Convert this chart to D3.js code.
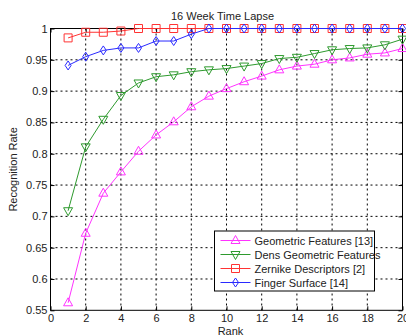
<!DOCTYPE html>
<html>
<head>
<meta charset="utf-8">
<script src="https://cdnjs.cloudflare.com/ajax/libs/d3/7.8.5/d3.min.js"></script>
<style>
  body { margin: 0; background: #fff; }
  svg { display: block; font-family: "Liberation Sans", Arial, sans-serif; }
  .tick text { font-size: 11px; fill: #222; }
</style>
</head>
<body>
<script>
// rank on the x axis
var ranks = [1, 2, 3, 4, 5, 6, 7, 8, 9, 10, 11, 12, 13, 14, 15, 16, 17, 18, 19, 20];

// recognition rate per method
var geometric = [0.562, 0.673, 0.737, 0.771, 0.804, 0.830, 0.851, 0.875, 0.892, 0.904,
                 0.915, 0.924, 0.934, 0.940, 0.943, 0.950, 0.953, 0.959, 0.961, 0.968];
var densGeometric = [0.709, 0.811, 0.855, 0.893, 0.913, 0.923, 0.926, 0.931, 0.934, 0.936,
                     0.940, 0.944, 0.952, 0.954, 0.960, 0.966, 0.968, 0.969, 0.974, 0.983];
var zernike = [0.985, 0.994, 0.994, 0.996, 1, 1, 1, 1, 1, 1,
               1, 1, 1, 1, 1, 1, 1, 1, 1, 1];
var fingerSurface = [0.941, 0.955, 0.965, 0.969, 0.969, 0.980, 0.980, 0.991, 1, 1,
                     1, 1, 1, 1, 1, 1, 1, 1, 1, 1];

var seriesNames = ["Geometric Features [13]", "Dens Geometric Features", "Zernike Descriptors [2]", "Finger Surface [14]"];

var xTicks = [0, 2, 4, 6, 8, 10, 12, 14, 16, 18, 20];
var yTicks = [0.55, 0.6, 0.65, 0.7, 0.75, 0.8, 0.85, 0.9, 0.95, 1];
var yTickLabels = ["0.55", "0.6", "0.65", "0.7", "0.75", "0.8", "0.85", "0.9", "0.95", "1"];

var series = [
    { name: seriesNames[0], values: geometric, color: "#ff33ff", marker: "triUp" },
    { name: seriesNames[1], values: densGeometric, color: "#2e9a2e", marker: "triDown" },
    { name: seriesNames[2], values: zernike, color: "#ff3333", marker: "square" },
    { name: seriesNames[3], values: fingerSurface, color: "#2a2aff", marker: "diamond" }
];

var W = 406, H = 335;
var margin = { top: 28.5, right: 3.5, bottom: 24.7, left: 50.5 };
var width = W - margin.left - margin.right,
    height = H - margin.top - margin.bottom;

var svg = d3.select("body").append("svg")
    .attr("width", W)
    .attr("height", H);

var g = svg.append("g")
    .attr("transform", "translate(" + margin.left + "," + margin.top + ")");

var xScale = d3.scaleLinear().domain([0, 20]).range([0, width]);
var yScale = d3.scaleLinear().domain([0.55, 1]).range([height, 0]);

// dotted grid
g.append("g").selectAll("line")
    .data(xTicks.slice(1, -1))
    .enter().append("line")
    .attr("x1", function (d) { return xScale(d); })
    .attr("x2", function (d) { return xScale(d); })
    .attr("y1", 0).attr("y2", height)
    .attr("stroke", "#000").attr("stroke-width", 1)
    .attr("stroke-dasharray", "2,3");

g.append("g").selectAll("line")
    .data(yTicks.slice(1, -1))
    .enter().append("line")
    .attr("y1", function (d) { return yScale(d); })
    .attr("y2", function (d) { return yScale(d); })
    .attr("x1", 0).attr("x2", width)
    .attr("stroke", "#000").attr("stroke-width", 1)
    .attr("stroke-dasharray", "2,3");

// axes (ticks pointing in)
var xAxis = d3.axisBottom(xScale).tickValues(xTicks).tickSizeInner(-4).tickSizeOuter(0).tickPadding(4);
var xAxisGroup = g.append("g")
    .attr("transform", "translate(0," + height + ")")
    .call(xAxis);

var yAxis = d3.axisLeft(yScale).tickValues(yTicks).tickSizeInner(-4).tickSizeOuter(0).tickPadding(3)
    .tickFormat(function (d, i) { return yTickLabels[i]; });
var yAxisGroup = g.append("g").call(yAxis);

g.append("g").call(d3.axisTop(xScale).tickValues(xTicks).tickSizeInner(-4).tickSizeOuter(0).tickFormat(""));
g.append("g").attr("transform", "translate(" + width + ",0)")
    .call(d3.axisRight(yScale).tickValues(yTicks).tickSizeInner(-4).tickSizeOuter(0).tickFormat(""));

g.selectAll(".domain").attr("stroke", "none");
g.selectAll(".tick line").attr("stroke", "#000");

g.append("rect")
    .attr("width", width).attr("height", height)
    .attr("fill", "none").attr("stroke", "#000").attr("stroke-width", 1);

// markers
function markerPath(type) {
    if (type == "triUp") return "M0,-5L4.5,3L-4.5,3Z";
    if (type == "triDown") return "M0,5L4.5,-3L-4.5,-3Z";
    if (type == "square") return "M-4,-4H4V4H-4Z";
    return "M0,-4.5L3,0L0,4.5L-3,0Z";
}

var line = d3.line()
    .x(function (d) { return xScale(d.x); })
    .y(function (d) { return yScale(d.y); });

series.forEach(function (s) {
    var pts = ranks.map(function (r, i) { return { x: r, y: s.values[i] }; });
    var sg = g.append("g");
    sg.append("path")
        .attr("d", line(pts))
        .attr("fill", "none")
        .attr("stroke", s.color)
        .attr("stroke-width", 1);
    sg.selectAll(".mk")
        .data(pts)
        .enter().append("path")
        .attr("class", "mk")
        .attr("transform", function (d) { return "translate(" + xScale(d.x) + "," + yScale(d.y) + ")"; })
        .attr("d", markerPath(s.marker))
        .attr("fill", "none")
        .attr("stroke", s.color)
        .attr("stroke-width", 1);
});

// title and axis labels
svg.append("text")
    .attr("x", margin.left + width / 2 - 4).attr("y", 20)
    .attr("text-anchor", "middle")
    .attr("font-size", "11px").attr("fill", "#222")
    .text("16 Week Time Lapse");

svg.append("text")
    .attr("x", margin.left + width / 2 + 4).attr("y", 335)
    .attr("text-anchor", "middle")
    .attr("font-size", "11px").attr("fill", "#222")
    .text("Rank");

svg.append("text")
    .attr("transform", "translate(17," + (margin.top + height / 2) + ") rotate(-90)")
    .attr("text-anchor", "middle")
    .attr("font-size", "11px").attr("fill", "#222")
    .text("Recognition Rate");

// legend
var legend = svg.append("g").attr("transform", "translate(214.5,231)");
legend.append("rect")
    .attr("width", 160).attr("height", 60)
    .attr("fill", "#fff").attr("stroke", "#000").attr("stroke-width", 1);

series.forEach(function (s, i) {
    var ly = 9.5 + i * 14;
    legend.append("line")
        .attr("x1", 6).attr("x2", 36)
        .attr("y1", ly).attr("y2", ly)
        .attr("stroke", s.color).attr("stroke-width", 1);
    legend.append("path")
        .attr("transform", "translate(21," + ly + ")")
        .attr("d", markerPath(s.marker))
        .attr("fill", "none").attr("stroke", s.color).attr("stroke-width", 1);
    legend.append("text")
        .attr("x", 40).attr("y", ly + 4)
        .attr("font-size", "11px").attr("fill", "#222")
        .text(s.name);
});
</script>
</body>
</html>
